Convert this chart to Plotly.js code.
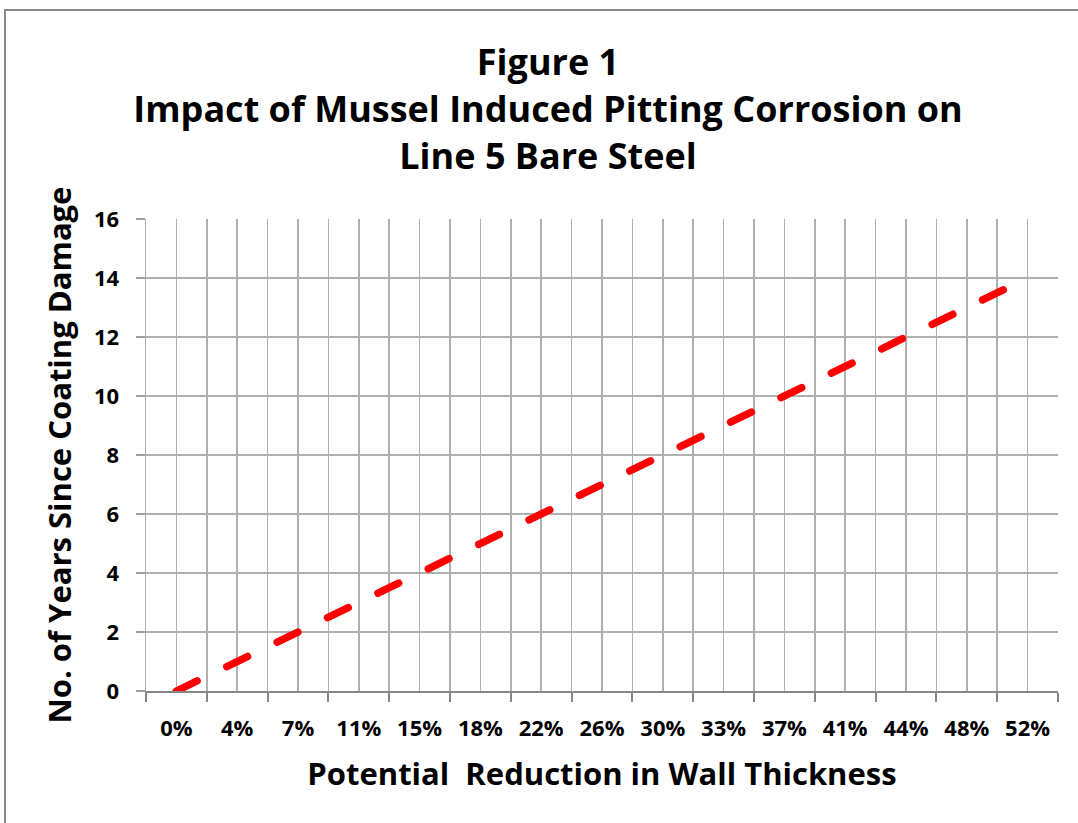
<!DOCTYPE html>
<html>
<head>
<meta charset="utf-8">
<script src="https://cdn.plot.ly/plotly-3.0.1.min.js"></script>
<style>
  html, body { margin: 0; padding: 0; background: #fff; }
  #frame { position: absolute; left: 4px; top: 9px; width: 1200px; height: 900px; border: 2px solid #8a8a8a; box-sizing: border-box; pointer-events: none; z-index: 2; }
  #chart { position: absolute; left: 0; top: 0; width: 1078px; height: 823px; }
  .js-line { stroke-linecap: round; }
</style>
</head>
<body>
<div id="chart"></div>
<div id="frame"></div>
<script>
// Data
const categories = ["0%", "4%", "7%", "11%", "15%", "18%", "22%", "26%", "30%", "33%", "37%", "41%", "44%", "48%", "52%"];
const years = [0, 1, 2, 3, 4, 5, 6, 7, 8, 9, 10, 11, 12, 13, 14];
const yTicks = [0, 2, 4, 6, 8, 10, 12, 14, 16];

const FONT = "'Open Sans', 'Noto Sans', sans-serif";
const idx = categories.map((c, i) => i);

const trace = {
  x: idx,
  y: years,
  type: 'scatter',
  mode: 'lines',
  line: { color: '#ff0000', width: 7.5, dash: '23px,33px' },
  hoverinfo: 'skip'
};

const layout = {
  width: 1078,
  height: 823,
  margin: { l: 146, r: 20, t: 219, b: 132 },
  paper_bgcolor: '#ffffff',
  plot_bgcolor: '#ffffff',
  showlegend: false,
  title: {
    text: 'Figure 1<br>Impact of Mussel Induced Pitting Corrosion on<br>Line 5 Bare Steel',
    font: { family: FONT, size: 36, color: '#000', weight: 'bold' },
    x: 548 / 1078,
    xref: 'container',
    xanchor: 'center',
    y: 1 - 75 / 823,
    yref: 'container',
    yanchor: 'top'
  },
  xaxis: {
    range: [-0.5, categories.length - 0.5],
    tickvals: idx,
    ticktext: categories,
    ticks: '',
    showgrid: true,
    gridcolor: '#b0b0b0',
    gridwidth: 1.5,
    showline: true,
    linecolor: '#868686',
    linewidth: 2,
    zeroline: false,
    tickfont: { family: FONT, size: 22, color: '#000', weight: 'bold' },
    ticklabelstandoff: 17,
    minor: {
      tick0: -0.5,
      dtick: 1,
      ticks: 'outside',
      ticklen: 9,
      tickwidth: 2,
      tickcolor: '#868686',
      showgrid: true,
      gridcolor: '#b0b0b0',
      gridwidth: 1.5
    },
    title: {
      text: 'Potential  Reduction in Wall Thickness',
      font: { family: FONT, size: 31, color: '#000', weight: 'bold' },
      standoff: 22
    },
    fixedrange: true
  },
  yaxis: {
    range: [0, 16],
    tickvals: yTicks,
    ticks: 'outside',
    ticklen: 9,
    tickwidth: 1.5,
    tickcolor: '#a0a0a0',
    showgrid: true,
    gridcolor: '#b0b0b0',
    gridwidth: 1.5,
    showline: true,
    linecolor: '#b0b0b0',
    linewidth: 1.5,
    zeroline: false,
    tickfont: { family: FONT, size: 22, color: '#000', weight: 'bold' },
    ticklabelstandoff: 12,
    title: {
      text: 'No. of Years Since Coating Damage',
      font: { family: FONT, size: 31, color: '#000', weight: 'bold' },
      standoff: 13
    },
    fixedrange: true
  }
};

Plotly.newPlot('chart', [trace], layout, { displayModeBar: false, staticPlot: true });
</script>
</body>
</html>
